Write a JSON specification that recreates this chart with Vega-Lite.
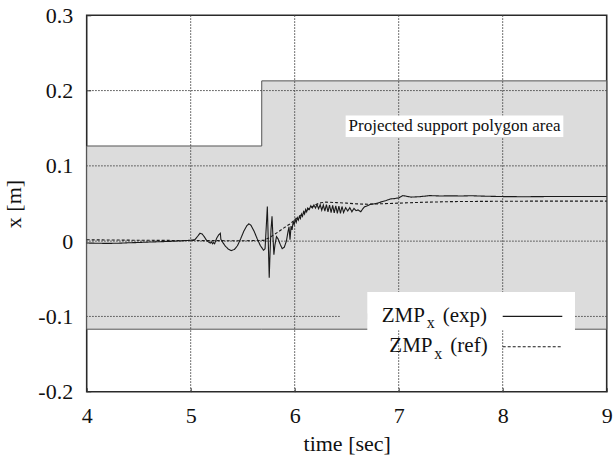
{
  "$schema": "https://vega.github.io/schema/vega-lite/v6.json",
  "width": 520,
  "height": 376.4,
  "autosize": {"type": "none"},
  "padding": {"left": 86.7, "top": 15.3, "right": 7.3, "bottom": 64.3},
  "background": "white",
  "config": {
    "view": {"stroke": "#2a2a2a", "strokeWidth": 1.6},
    "font": "Liberation Serif, DejaVu Serif, serif",
    "axis": {
      "labelFont": "Liberation Serif, DejaVu Serif, serif",
      "labelFontSize": 22,
      "labelColor": "#111",
      "titleFont": "Liberation Serif, DejaVu Serif, serif",
      "titleFontSize": 22,
      "titleFontWeight": "normal",
      "titleColor": "#111",
      "domain": false,
      "grid": false,
      "tickColor": "#333",
      "tickSize": -4
    },
    "text": {"font": "Liberation Serif, DejaVu Serif, serif", "color": "#111"}
  },
  "datasets": {
    "poly": [
      {"t": 4, "top": 0.1264, "bottom": -0.117},
      {"t": 5.683, "top": 0.2129, "bottom": -0.117},
      {"t": 9, "top": 0.2129, "bottom": -0.117}
    ],
    "gridx": [{"t": 5}, {"t": 6}, {"t": 7}, {"t": 8}],
    "gridy": [{"v": -0.1}, {"v": 0}, {"v": 0.1}, {"v": 0.2}],
    "boxes": [
      {"name": "label", "x1": 6.49, "x2": 8.583, "y1": 0.1382, "y2": 0.1668},
      {"name": "legend", "x1": 6.698, "x2": 8.695, "y1": -0.1185, "y2": -0.0674}
    ],
    "gap": [{"x1": 6.436, "x2": 6.698, "y1": -0.104, "y2": -0.096}],
    "note": [{"t": 7.537, "v": 0.1525, "text": "Projected support polygon area"}],
    "legend": [
      {"series": "exp", "tx": 6.837, "lx1": 8.0, "lx2": 8.573, "ly": -0.1, "suffix": "(exp)"},
      {"series": "ref", "tx": 6.91, "lx1": 8.0, "lx2": 8.573, "ly": -0.1403, "suffix": "(ref)"}
    ],
    "zmp": [
      {"s": "exp", "t": 4.00, "v": -0.0025},
      {"s": "exp", "t": 4.10, "v": -0.0028},
      {"s": "exp", "t": 4.20, "v": -0.0030},
      {"s": "exp", "t": 4.30, "v": -0.0028},
      {"s": "exp", "t": 4.40, "v": -0.0022},
      {"s": "exp", "t": 4.50, "v": -0.0018},
      {"s": "exp", "t": 4.60, "v": -0.0012},
      {"s": "exp", "t": 4.70, "v": -0.0008},
      {"s": "exp", "t": 4.80, "v": -0.0003},
      {"s": "exp", "t": 4.90, "v": 0.0003},
      {"s": "exp", "t": 5.00, "v": 0.0012},
      {"s": "exp", "t": 5.04, "v": 0.0020},
      {"s": "exp", "t": 5.07, "v": 0.0070},
      {"s": "exp", "t": 5.09, "v": 0.0105},
      {"s": "exp", "t": 5.11, "v": 0.0095},
      {"s": "exp", "t": 5.13, "v": 0.0060},
      {"s": "exp", "t": 5.15, "v": 0.0015},
      {"s": "exp", "t": 5.17, "v": -0.0010},
      {"s": "exp", "t": 5.19, "v": -0.0025},
      {"s": "exp", "t": 5.20, "v": -0.0010},
      {"s": "exp", "t": 5.21, "v": -0.0035},
      {"s": "exp", "t": 5.22, "v": -0.0020},
      {"s": "exp", "t": 5.23, "v": -0.0035},
      {"s": "exp", "t": 5.25, "v": 0.0040},
      {"s": "exp", "t": 5.27, "v": 0.0085},
      {"s": "exp", "t": 5.285, "v": 0.0105},
      {"s": "exp", "t": 5.29, "v": 0.0025},
      {"s": "exp", "t": 5.31, "v": -0.0020},
      {"s": "exp", "t": 5.33, "v": -0.0060},
      {"s": "exp", "t": 5.36, "v": -0.0105},
      {"s": "exp", "t": 5.39, "v": -0.0125},
      {"s": "exp", "t": 5.42, "v": -0.0110},
      {"s": "exp", "t": 5.45, "v": -0.0060},
      {"s": "exp", "t": 5.48, "v": 0.0030},
      {"s": "exp", "t": 5.51, "v": 0.0130},
      {"s": "exp", "t": 5.54, "v": 0.0205},
      {"s": "exp", "t": 5.56, "v": 0.0230},
      {"s": "exp", "t": 5.58, "v": 0.0210},
      {"s": "exp", "t": 5.61, "v": 0.0130},
      {"s": "exp", "t": 5.64, "v": 0.0030},
      {"s": "exp", "t": 5.67, "v": -0.0060},
      {"s": "exp", "t": 5.70, "v": -0.0120},
      {"s": "exp", "t": 5.715, "v": -0.0100},
      {"s": "exp", "t": 5.725, "v": 0.0150},
      {"s": "exp", "t": 5.737, "v": 0.0460},
      {"s": "exp", "t": 5.745, "v": 0.0050},
      {"s": "exp", "t": 5.755, "v": -0.0485},
      {"s": "exp", "t": 5.763, "v": -0.0150},
      {"s": "exp", "t": 5.772, "v": 0.0150},
      {"s": "exp", "t": 5.782, "v": 0.0330},
      {"s": "exp", "t": 5.79, "v": 0.0080},
      {"s": "exp", "t": 5.80, "v": -0.0180},
      {"s": "exp", "t": 5.81, "v": -0.0050},
      {"s": "exp", "t": 5.825, "v": 0.0060},
      {"s": "exp", "t": 5.84, "v": 0.0030},
      {"s": "exp", "t": 5.86, "v": -0.0040},
      {"s": "exp", "t": 5.88, "v": -0.0100},
      {"s": "exp", "t": 5.90, "v": -0.0080},
      {"s": "exp", "t": 5.92, "v": 0.0000},
      {"s": "exp", "t": 5.935, "v": 0.0120},
      {"s": "exp", "t": 5.945, "v": 0.0190},
      {"s": "exp", "t": 5.955, "v": 0.0020},
      {"s": "exp", "t": 5.965, "v": 0.0200},
      {"s": "exp", "t": 5.975, "v": 0.0150},
      {"s": "exp", "t": 5.985, "v": 0.0260},
      {"s": "exp", "t": 5.995, "v": 0.0220},
      {"s": "exp", "t": 6.005, "v": 0.0290},
      {"s": "exp", "t": 6.015, "v": 0.0250},
      {"s": "exp", "t": 6.025, "v": 0.0310},
      {"s": "exp", "t": 6.035, "v": 0.0280},
      {"s": "exp", "t": 6.045, "v": 0.0330},
      {"s": "exp", "t": 6.055, "v": 0.0300},
      {"s": "exp", "t": 6.065, "v": 0.0360},
      {"s": "exp", "t": 6.075, "v": 0.0330},
      {"s": "exp", "t": 6.085, "v": 0.0390},
      {"s": "exp", "t": 6.095, "v": 0.0360},
      {"s": "exp", "t": 6.105, "v": 0.0420},
      {"s": "exp", "t": 6.115, "v": 0.0390},
      {"s": "exp", "t": 6.125, "v": 0.0440},
      {"s": "exp", "t": 6.14, "v": 0.0420},
      {"s": "exp", "t": 6.155, "v": 0.0470},
      {"s": "exp", "t": 6.17, "v": 0.0440},
      {"s": "exp", "t": 6.185, "v": 0.0480},
      {"s": "exp", "t": 6.20, "v": 0.0440},
      {"s": "exp", "t": 6.215, "v": 0.0485},
      {"s": "exp", "t": 6.23, "v": 0.0430},
      {"s": "exp", "t": 6.245, "v": 0.0485},
      {"s": "exp", "t": 6.26, "v": 0.0410},
      {"s": "exp", "t": 6.275, "v": 0.0480},
      {"s": "exp", "t": 6.29, "v": 0.0400},
      {"s": "exp", "t": 6.305, "v": 0.0485},
      {"s": "exp", "t": 6.32, "v": 0.0390},
      {"s": "exp", "t": 6.335, "v": 0.0480},
      {"s": "exp", "t": 6.35, "v": 0.0380},
      {"s": "exp", "t": 6.365, "v": 0.0475},
      {"s": "exp", "t": 6.38, "v": 0.0375},
      {"s": "exp", "t": 6.395, "v": 0.0470},
      {"s": "exp", "t": 6.41, "v": 0.0370},
      {"s": "exp", "t": 6.425, "v": 0.0465},
      {"s": "exp", "t": 6.44, "v": 0.0370},
      {"s": "exp", "t": 6.455, "v": 0.0460},
      {"s": "exp", "t": 6.47, "v": 0.0380},
      {"s": "exp", "t": 6.49, "v": 0.0445},
      {"s": "exp", "t": 6.51, "v": 0.0400},
      {"s": "exp", "t": 6.53, "v": 0.0445},
      {"s": "exp", "t": 6.55, "v": 0.0390},
      {"s": "exp", "t": 6.57, "v": 0.0435},
      {"s": "exp", "t": 6.59, "v": 0.0405},
      {"s": "exp", "t": 6.61, "v": 0.0415},
      {"s": "exp", "t": 6.635, "v": 0.0390},
      {"s": "exp", "t": 6.65, "v": 0.0420},
      {"s": "exp", "t": 6.67, "v": 0.0455},
      {"s": "exp", "t": 6.70, "v": 0.0470},
      {"s": "exp", "t": 6.73, "v": 0.0490},
      {"s": "exp", "t": 6.76, "v": 0.0495},
      {"s": "exp", "t": 6.80, "v": 0.0505},
      {"s": "exp", "t": 6.84, "v": 0.0525},
      {"s": "exp", "t": 6.88, "v": 0.0540},
      {"s": "exp", "t": 6.92, "v": 0.0560},
      {"s": "exp", "t": 6.96, "v": 0.0565},
      {"s": "exp", "t": 7.00, "v": 0.0575},
      {"s": "exp", "t": 7.04, "v": 0.0605},
      {"s": "exp", "t": 7.08, "v": 0.0595},
      {"s": "exp", "t": 7.12, "v": 0.0585},
      {"s": "exp", "t": 7.20, "v": 0.0590},
      {"s": "exp", "t": 7.30, "v": 0.0605},
      {"s": "exp", "t": 7.40, "v": 0.0600},
      {"s": "exp", "t": 7.50, "v": 0.0602},
      {"s": "exp", "t": 7.60, "v": 0.0600},
      {"s": "exp", "t": 7.70, "v": 0.0603},
      {"s": "exp", "t": 7.80, "v": 0.0598},
      {"s": "exp", "t": 7.90, "v": 0.0595},
      {"s": "exp", "t": 8.00, "v": 0.0592},
      {"s": "exp", "t": 8.20, "v": 0.0590},
      {"s": "exp", "t": 8.40, "v": 0.0592},
      {"s": "exp", "t": 8.60, "v": 0.0592},
      {"s": "exp", "t": 8.80, "v": 0.0592},
      {"s": "exp", "t": 9.00, "v": 0.0592},
      {"s": "ref", "t": 4.00, "v": 0.0018},
      {"s": "ref", "t": 4.50, "v": 0.0012},
      {"s": "ref", "t": 5.00, "v": 0.0008},
      {"s": "ref", "t": 5.50, "v": 0.0005},
      {"s": "ref", "t": 5.70, "v": 0.0010},
      {"s": "ref", "t": 5.75, "v": 0.0040},
      {"s": "ref", "t": 5.80, "v": 0.0085},
      {"s": "ref", "t": 5.85, "v": 0.0130},
      {"s": "ref", "t": 5.90, "v": 0.0180},
      {"s": "ref", "t": 5.95, "v": 0.0225},
      {"s": "ref", "t": 6.00, "v": 0.0280},
      {"s": "ref", "t": 6.05, "v": 0.0335},
      {"s": "ref", "t": 6.10, "v": 0.0390},
      {"s": "ref", "t": 6.15, "v": 0.0440},
      {"s": "ref", "t": 6.20, "v": 0.0485},
      {"s": "ref", "t": 6.25, "v": 0.0510},
      {"s": "ref", "t": 6.30, "v": 0.0518},
      {"s": "ref", "t": 6.40, "v": 0.0512},
      {"s": "ref", "t": 6.50, "v": 0.0505},
      {"s": "ref", "t": 6.60, "v": 0.0495},
      {"s": "ref", "t": 6.70, "v": 0.0490},
      {"s": "ref", "t": 6.80, "v": 0.0495},
      {"s": "ref", "t": 6.90, "v": 0.0500},
      {"s": "ref", "t": 7.00, "v": 0.0505},
      {"s": "ref", "t": 7.20, "v": 0.0515},
      {"s": "ref", "t": 7.50, "v": 0.0525},
      {"s": "ref", "t": 8.00, "v": 0.0530},
      {"s": "ref", "t": 8.50, "v": 0.0532},
      {"s": "ref", "t": 9.00, "v": 0.0532}
    ]
  },
  "layer": [
    {
      "data": {"name": "poly"},
      "mark": {"type": "area", "interpolate": "step-after", "fill": "#dcdcdc", "stroke": "#555", "strokeWidth": 1},
      "encoding": {
        "x": {
          "field": "t", "type": "quantitative",
          "scale": {"domain": [4, 9], "nice": false, "zero": false},
          "axis": {"title": "time [sec]", "values": [4, 5, 6, 7, 8, 9], "format": "d", "labelPadding": 17.5, "titlePadding": 7, "labelFlush": false}
        },
        "y": {
          "field": "top", "type": "quantitative",
          "scale": {"domain": [-0.2, 0.3], "nice": false, "zero": false},
          "axis": {
            "title": "x [m]",
            "values": [-0.2, -0.1, 0, 0.1, 0.2, 0.3],
            "labelExpr": "datum.value == 0 ? '0' : (datum.value < 0 ? '-' + format(-datum.value, '.1f') : format(datum.value, '.1f'))",
            "labelPadding": 18,
            "titlePadding": 12,
            "labelFlush": false
          }
        },
        "y2": {"field": "bottom"}
      }
    },
    {
      "data": {"name": "gridx"},
      "mark": {"type": "rule", "stroke": "#444", "strokeWidth": 1, "strokeDash": [1.5, 1.5]},
      "encoding": {"x": {"field": "t", "type": "quantitative"}}
    },
    {
      "data": {"name": "gridy"},
      "mark": {"type": "rule", "stroke": "#444", "strokeWidth": 1, "strokeDash": [1.5, 1.5]},
      "encoding": {"y": {"field": "v", "type": "quantitative"}}
    },
    {
      "data": {"name": "boxes"},
      "mark": {"type": "rect", "fill": "white"},
      "encoding": {
        "x": {"field": "x1", "type": "quantitative"},
        "x2": {"field": "x2"},
        "y": {"field": "y1", "type": "quantitative"},
        "y2": {"field": "y2"}
      }
    },
    {
      "data": {"name": "gap"},
      "mark": {"type": "rect", "fill": "#dcdcdc"},
      "encoding": {
        "x": {"field": "x1", "type": "quantitative"},
        "x2": {"field": "x2"},
        "y": {"field": "y1", "type": "quantitative"},
        "y2": {"field": "y2"}
      }
    },
    {
      "data": {"name": "note"},
      "mark": {"type": "text", "fontSize": 17, "align": "center", "baseline": "middle"},
      "encoding": {
        "x": {"field": "t", "type": "quantitative"},
        "y": {"field": "v", "type": "quantitative"},
        "text": {"field": "text"}
      }
    },
    {
      "data": {"name": "zmp"},
      "mark": {"type": "line", "stroke": "#1a1a1a", "strokeWidth": 1.1},
      "encoding": {
        "x": {"field": "t", "type": "quantitative"},
        "y": {"field": "v", "type": "quantitative"},
        "detail": {"field": "s"},
        "strokeDash": {
          "field": "s", "type": "nominal",
          "scale": {"domain": ["exp", "ref"], "range": [[1, 0], [3, 2]]},
          "legend": null
        }
      }
    },
    {
      "data": {"name": "legend"},
      "mark": {"type": "rule", "stroke": "#1a1a1a", "strokeWidth": 1.1},
      "encoding": {
        "x": {"field": "lx1", "type": "quantitative"},
        "x2": {"field": "lx2"},
        "y": {"field": "ly", "type": "quantitative"},
        "strokeDash": {
          "field": "series", "type": "nominal",
          "scale": {"domain": ["exp", "ref"], "range": [[1, 0], [3, 2]]},
          "legend": null
        }
      }
    },
    {
      "data": {"name": "legend"},
      "mark": {"type": "text", "fontSize": 21, "align": "left", "baseline": "alphabetic", "dy": 5.5},
      "encoding": {
        "x": {"field": "tx", "type": "quantitative"},
        "y": {"field": "ly", "type": "quantitative"},
        "text": {"value": "ZMP"}
      }
    },
    {
      "data": {"name": "legend"},
      "mark": {"type": "text", "fontSize": 16, "align": "left", "baseline": "alphabetic", "dx": 45, "dy": 12},
      "encoding": {
        "x": {"field": "tx", "type": "quantitative"},
        "y": {"field": "ly", "type": "quantitative"},
        "text": {"value": "x"}
      }
    },
    {
      "data": {"name": "legend"},
      "mark": {"type": "text", "fontSize": 21, "align": "left", "baseline": "alphabetic", "dx": 61, "dy": 5.5},
      "encoding": {
        "x": {"field": "tx", "type": "quantitative"},
        "y": {"field": "ly", "type": "quantitative"},
        "text": {"field": "suffix"}
      }
    }
  ]
}
